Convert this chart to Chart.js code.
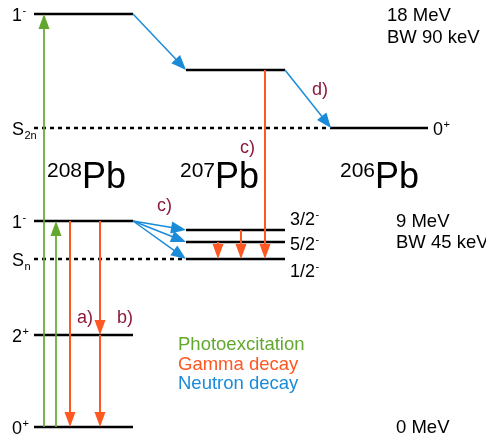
<!DOCTYPE html>
<html><head><meta charset="utf-8">
<script src="https://cdn.jsdelivr.net/npm/chart.js@4"></script>
<style>html,body{margin:0;padding:0;background:#fff}#wrap{width:486px;height:438px}</style>
</head><body><div id="wrap"><canvas id="c" width="486" height="438"></canvas></div>
<script>
// ---- Level scheme data (x in diagram units, y = diagram energy position) ----
const levelNames  = ['208Pb 1- (18 MeV)','207Pb GDR','S2n','206Pb 0+','208Pb 1- (9 MeV)','207Pb 3/2-','207Pb 5/2-','Sn','207Pb 1/2-','208Pb 2+','208Pb 0+'];
const levelY      = [14, 70, 128, 128, 221, 230, 242, 259, 259, 335, 427];
const levelStart  = [34, 186, 34, 330, 34, 186, 186, 34, 186, 34, 34];
const levelEnd    = [133, 285, 330, 428, 133, 285, 285, 186, 285, 133, 133];
const levelDashed = [false,false,true,false,false,false,false,true,false,false,false];

// ---- Transitions ----
const arrowKind  = ['photo','photo','gamma','gamma','gamma','neutron','neutron','gamma','neutron','neutron','neutron','gamma','gamma'];
const arrowFromX = [44, 56, 70, 100, 100, 133, 285, 265, 133, 133, 133, 241, 218];
const arrowFromY = [427, 427, 221, 221, 335, 14, 70, 70, 221, 221, 221, 230, 242];
const arrowToX   = [44, 56, 70, 100, 100, 186, 331, 265, 186, 186, 186, 241, 218];
const arrowToY   = [14, 221, 427, 335, 427, 70, 128, 259, 230, 242, 259, 259, 259];

// ---- Texts: [text, x, baseline y, sup, sub] ----
const stateLabels = [['1',12,21,'-',''],['S',12,135,'','2n'],['1',12,228,'-',''],['S',12,266,'','n'],['2',12,342,'+',''],['0',12,434,'+','']];
const spinLabels  = [['3/2',290,225,'-',''],['5/2',290,250,'-',''],['1/2',290,277,'-',''],['0',433,135,'+','']];
const nucleusMass = ['208','207','206'];
const nucleusX    = [47, 180, 340];
const energyLabels = [['18 MeV',387,21],['BW 90 keV',387,43],['9 MeV',396,227],['BW 45 keV',396,248],['0 MeV',396,433]];
const processLabels = [['a)',77,323],['b)',117,323],['c)',157,211],['c)',240,153],['d)',312,95]];
const legendLabels = ['Photoexcitation','Gamma decay','Neutron decay'];
const legendBaseline = [350, 370, 389];

const COL = {photo:'#62a82f', gamma:'#ff5722', neutron:'#1a8bd8'};
const LW = {photo:1.7, gamma:2, neutron:1.5};
const HEAD = {photo:[15,11], gamma:[15,11], neutron:[15,12]};
const FONT = '"Liberation Sans", Arial, sans-serif';

const datasets = levelNames.map((n,i)=>({
  label:n,
  data:[{x:levelStart[i],y:levelY[i]},{x:levelEnd[i],y:levelY[i]}],
  borderColor:'#000', borderWidth:2.5, borderDash: levelDashed[i]?[4,4]:[],
  borderCapStyle:'butt', pointRadius:0, fill:false, tension:0
}));

const schemePlugin = {
  id:'scheme',
  afterDatasetsDraw(chart){
    const ctx = chart.ctx, xs = chart.scales.x, ys = chart.scales.y;
    const X = v=>xs.getPixelForValue(v), Y = v=>ys.getPixelForValue(v);
    // arrows
    arrowKind.forEach((k,i)=>{
      const x1=X(arrowFromX[i]), y1=Y(arrowFromY[i]), x2=X(arrowToX[i]), y2=Y(arrowToY[i]);
      const dx=x2-x1, dy=y2-y1, L=Math.hypot(dx,dy), ux=dx/L, uy=dy/L;
      const [hl,hw]=HEAD[k];
      const bx=x2-ux*hl, by=y2-uy*hl;
      ctx.save();
      ctx.strokeStyle=COL[k]; ctx.fillStyle=COL[k]; ctx.lineWidth=LW[k];
      ctx.beginPath(); ctx.moveTo(x1,y1); ctx.lineTo(bx+ux*2,by+uy*2); ctx.stroke();
      ctx.beginPath(); ctx.moveTo(x2,y2);
      ctx.lineTo(bx - uy*hw/2, by + ux*hw/2);
      ctx.lineTo(bx + uy*hw/2, by - ux*hw/2);
      ctx.closePath(); ctx.fill();
      ctx.restore();
    });
    // text helpers
    ctx.save();
    ctx.textBaseline='alphabetic'; ctx.textAlign='left';
    const rich=(arr,size,color)=>{
      arr.forEach(([t,x,b,sup,sub])=>{
        ctx.fillStyle=color;
        ctx.font=size+'px '+FONT;
        const px=X(x), py=Y(b);
        ctx.fillText(t,px,py);
        const w=ctx.measureText(t).width;
        if(sup){ ctx.font='11px '+FONT; ctx.fillText(sup,px+w+0.5,py-7); }
        if(sub){ ctx.font='11px '+FONT; ctx.fillText(sub,px+w+0.5,py+4); }
      });
    };
    rich(stateLabels,18,'#000');
    rich(spinLabels,18,'#000');
    // nuclei names
    nucleusMass.forEach((m,i)=>{
      const px=X(nucleusX[i]);
      ctx.fillStyle='#000';
      ctx.font='21px '+FONT;
      ctx.fillText(m,px,Y(177));
      const w=ctx.measureText(m).width;
      ctx.font='36px '+FONT;
      ctx.fillText('Pb',px+w,Y(188));
    });
    ctx.font='18.5px '+FONT; ctx.fillStyle='#000';
    energyLabels.forEach(([t,x,b])=>ctx.fillText(t,X(x),Y(b)));
    ctx.font='18px '+FONT; ctx.fillStyle='#8b1a3a';
    processLabels.forEach(([t,x,b])=>ctx.fillText(t,X(x),Y(b)));
    const lc=[COL.photo,COL.gamma,COL.neutron];
    ctx.font='18.5px '+FONT;
    legendLabels.forEach((t,i)=>{ctx.fillStyle=lc[i]; ctx.fillText(t,X(178),Y(legendBaseline[i]));});
    ctx.restore();
  }
};

new Chart(document.getElementById('c'),{
  type:'line',
  data:{datasets},
  options:{
    responsive:false, animation:false,
    layout:{padding:0},
    plugins:{legend:{display:false},tooltip:{enabled:false}},
    scales:{
      x:{type:'linear',min:0,max:486,display:false},
      y:{type:'linear',min:0,max:438,reverse:true,display:false}
    }
  },
  plugins:[schemePlugin]
});
</script>
</body></html>
